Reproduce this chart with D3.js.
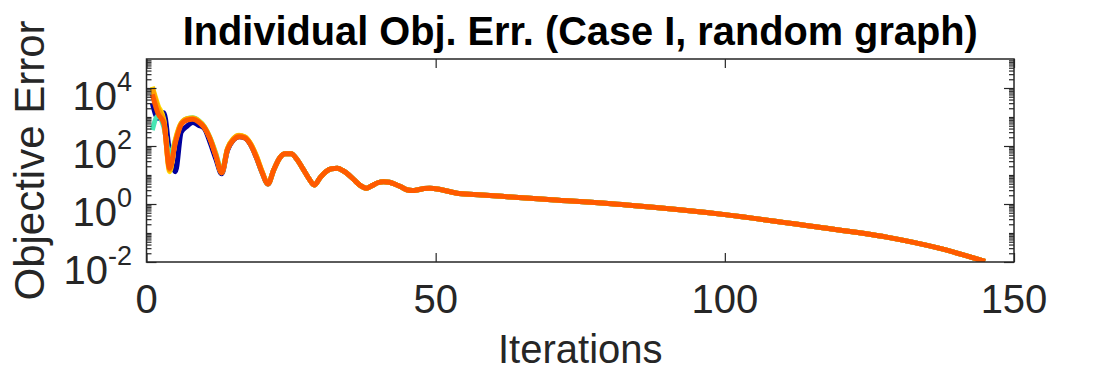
<html>
<script src='https://d3js.org/d3.v7.min.js'></script>
<style>
body {margin: 0; background: white;}
text {font-family: "Liberation Sans", Arial, Helvetica, sans-serif; fill: #262626;}
.title {font-weight: bold; fill: black;}
</style>
<body>
<svg width=1120 height=372></svg>
<script>
// iterations where every agent has its own value
var headIters = [1,2,3,4,5,6,7,8,9,10,11,12,13,14,15,16,17,18,19,20,21];

// per-agent error for the first iterations
var navyErr   = [3000, 900, 1400, 60, 13, 300, 480, 650, 520, 400, 130, 35, 11, 70, 160, 210, 190, 110, 40, 12, 4.9];
var aquaErr   = [350, 1100, 450, 50, 160, 600, 880, 950, 760, 470, 190, 55, 14, 80, 170, 220, 200, 115, 42, 12, 4.9];
var yellowErr = [11000, 2500, 800, 13, 170, 620, 880, 920, 740, 460, 185, 50, 12, 82, 178, 235, 210, 122, 46, 13, 5.0];
var orangeErr = [10000, 2000, 700, 15, 150, 600, 850, 900, 720, 450, 180, 48, 12, 80, 175, 230, 205, 120, 45, 13, 5.0];
var redErr    = [6000, 1300, 600, 17, 130, 550, 780, 830, 680, 430, 170, 45, 12, 75, 160, 210, 190, 110, 40, 12, 4.9];

// after that all agents sit on top of each other
var tailIters = [22,23,24,25,26,27,28,29,30,31,32,33,34,35,36,37,38,39,40,41,42,43,44,45,46,47,48,49,51,54,58,63,70,83,100,115,128,137,145];
var tailErr   = [15,38,54,54,35,17,8,4.5,8,13,16.5,17,14,10,6.5,4.3,3.5,4.3,5.4,5.9,5.6,4.8,3.9,3.1,2.9,3.1,3.4,3.5,3.1,2.3,2.05,1.75,1.4,0.92,0.43,0.17,0.072,0.03,0.0105];

var seriesNames  = ["navy", "aqua", "yellow", "orange", "red"];
var seriesColors = ["#00009c", "#45e6b4", "#ffdc00", "#ffa000", "#ff5a00"];
var seriesHeads  = [navyErr, aquaErr, yellowErr, orangeErr, redErr];

var xTicks = [0, 50, 100, 150];
var yTickExp = [-2, 0, 2, 4];

var plotL = 146.5, plotR = 1014, plotT = 59, plotB = 262;

var x = d3.scaleLinear().domain([0, 150]).range([plotL, plotR]);
var y = d3.scaleLog().domain([1e-2, 1e5]).range([plotB, plotT]);

var svg = d3.select("svg");

svg.append("clipPath").attr("id", "plotclip")
  .append("rect").attr("x", plotL).attr("y", plotT).attr("width", plotR - plotL).attr("height", plotB - plotT);

var line = d3.line()
  .x(function(d) { return x(d.it); })
  .y(function(d) { return y(d.v); })
  .curve(d3.curveMonotoneX);

var series = seriesNames.map(function(name, i) {
  var pts = headIters.map(function(it, j) { return {it: it, v: seriesHeads[i][j]}; });
  tailIters.forEach(function(it, j) { pts.push({it: it, v: tailErr[j]}); });
  return {name: name, color: seriesColors[i], pts: pts};
});

svg.append("g").attr("clip-path", "url(#plotclip)")
  .selectAll("path")
  .data(series)
  .enter()
  .append("path")
    .attr("d", function(d) { return line(d.pts); })
    .attr("fill", "none")
    .attr("stroke", function(d) { return d.color; })
    .attr("stroke-width", 5)
    .attr("stroke-linejoin", "round")
    .attr("stroke-linecap", "butt");

// axes box with inward ticks (bottom/left labelled, top/right mirrored)
var axisColor = "#262626";
function styleAxis(g) {
  g.select(".domain").remove();
  g.selectAll("line").attr("stroke", axisColor).attr("stroke-width", 1.2);
}

var majorY = yTickExp.map(function(e) { return Math.pow(10, e); });
var minorY = [];
for (var e = -2; e < 5; e++) {
  for (var m = 1; m < 10; m++) {
    if (m == 1 && yTickExp.indexOf(e) >= 0) continue;
    minorY.push(m * Math.pow(10, e));
  }
}

svg.append("g").attr("transform", "translate(0," + plotB + ")")
  .call(d3.axisTop(x).tickValues(xTicks).tickSize(9).tickFormat(""))
  .call(styleAxis);
svg.append("g").attr("transform", "translate(0," + plotT + ")")
  .call(d3.axisBottom(x).tickValues(xTicks).tickSize(9).tickFormat(""))
  .call(styleAxis);
svg.append("g").attr("transform", "translate(" + plotL + ",0)")
  .call(d3.axisRight(y).tickValues(majorY).tickSize(10).tickFormat(""))
  .call(styleAxis);
svg.append("g").attr("transform", "translate(" + plotL + ",0)")
  .call(d3.axisRight(y).tickValues(minorY).tickSize(5).tickFormat(""))
  .call(styleAxis);
svg.append("g").attr("transform", "translate(" + plotR + ",0)")
  .call(d3.axisLeft(y).tickValues(majorY).tickSize(10).tickFormat(""))
  .call(styleAxis);
svg.append("g").attr("transform", "translate(" + plotR + ",0)")
  .call(d3.axisLeft(y).tickValues(minorY).tickSize(5).tickFormat(""))
  .call(styleAxis);

svg.append("rect")
  .attr("x", plotL).attr("y", plotT).attr("width", plotR - plotL).attr("height", plotB - plotT)
  .attr("fill", "none").attr("stroke", axisColor).attr("stroke-width", 1.5);

// tick labels
svg.append("g").selectAll("text")
  .data(xTicks)
  .enter()
  .append("text")
    .attr("x", function(d) { return x(d); })
    .attr("y", 313)
    .attr("text-anchor", "middle")
    .attr("font-size", 40)
    .text(function(d) { return d; });

var yLab = svg.append("g").selectAll("text")
  .data(yTickExp)
  .enter()
  .append("text")
    .attr("x", 132)
    .attr("y", function(d) { return y(Math.pow(10, d)) + 22; })
    .attr("text-anchor", "end")
    .attr("font-size", 40);
yLab.append("tspan").text("10");
yLab.append("tspan")
  .attr("dy", -19)
  .attr("font-size", 27)
  .text(function(d) { return d; });

// labels and title
svg.append("text")
  .attr("x", (plotL + plotR) / 2).attr("y", 363)
  .attr("text-anchor", "middle")
  .attr("font-size", 40)
  .text("Iterations");

svg.append("text")
  .attr("transform", "translate(44," + ((plotT + plotB) / 2) + ") rotate(-90)")
  .attr("text-anchor", "middle")
  .attr("font-size", 42)
  .text("Objective Error");

svg.append("text")
  .attr("class", "title")
  .attr("x", (plotL + plotR) / 2).attr("y", 45)
  .attr("text-anchor", "middle")
  .attr("font-size", 41)
  .attr("textLength", 795)
  .attr("lengthAdjust", "spacingAndGlyphs")
  .text("Individual Obj. Err. (Case I, random graph)");
</script>
</body>
</html>
